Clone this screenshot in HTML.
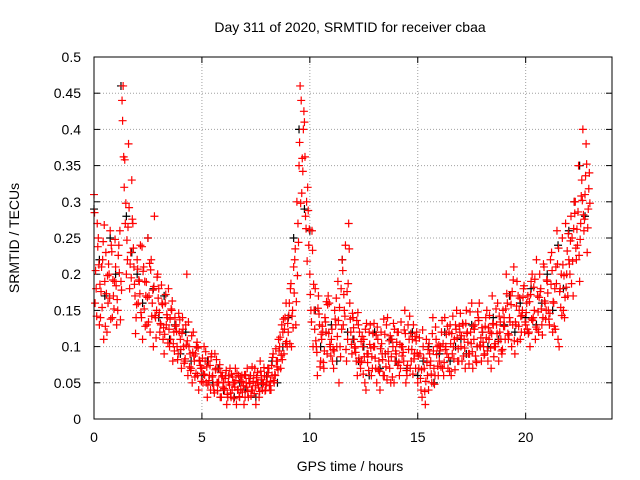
<!DOCTYPE html>
<html><head><meta charset="utf-8"><style>
html,body{margin:0;padding:0;background:#fff;}
svg{display:block;font-family:"Liberation Sans",sans-serif;}
</style></head><body>
<svg id="chart" width="640" height="480" viewBox="0 0 640 480">
<rect x="0" y="0" width="640" height="480" fill="#fff"/>
<text x="350" y="32" font-size="14" text-anchor="middle">Day 311 of 2020, SRMTID for receiver cbaa</text>
<text x="19" y="238" font-size="14" text-anchor="middle" transform="rotate(-90 19 238)">SRMTID / TECUs</text>
<text x="350" y="471" font-size="14" text-anchor="middle">GPS time / hours</text>
<g id="grid"></g><g id="ticks"></g><g id="black"></g><g id="red"></g>
<rect x="94" y="57" width="518" height="362" fill="none" stroke="#000" stroke-width="1"/>
</svg>
<script>
const xTicks=[0,5,10,15,20];
const yTicks=[0,0.05,0.1,0.15,0.2,0.25,0.3,0.35,0.4,0.45,0.5];
const yTickLabels=["0","0.05","0.1","0.15","0.2","0.25","0.3","0.35","0.4","0.45","0.5"];
const redAStart=0, redAStep=0.1;
const redA=[.31,.18,.25,.14,.22,.19,.12,.2,.24,.17,.21,.15,.26,.44,.32,.2,.38,.23,.27,.17,.22,.19,.14,.21,.17,.25,.12,.16,.28,.15,.18,.13,.11,.16,.14,.1,.15,.12,.13,.09,.11,.14,.08,.2,.1,.07,.12,.09,.06,.08,.07,.1,.05,.08,.04,.06,.09,.05,.07,.03,.05,.06,.03,.07,.04,.05,.02,.06,.04,.05,.03,.07,.05,.04,.06,.02,.05,.08,.04,.06,.05,.07,.04,.09,.06,.08,.1,.13,.09,.16,.12,.18,.15,.22,.3,.35,.44,.4,.28,.32,.2,.26,.15,.1,.17,.08,.12,.14,.09,.16,.11,.07,.13,.19,.1,.22,.15,.08,.27,.12,.14,.1,.06,.12,.08,.11,.04,.09,.13,.07,.1,.05,.08,.12,.06,.09,.14,.07,.11,.05,.09,.12,.07,.1,.15,.06,.11,.08,.13,.07,.05,.09,.03,.07,.11,.04,.08,.14,.06,.1,.08,.12,.06,.1,.07,.13,.09,.11,.15,.08,.1,.13,.07,.12,.09,.16,.11,.08,.14,.1,.12,.09,.15,.11,.07,.13,.1,.16,.12,.09,.14,.2,.11,.17,.13,.09,.19,.15,.12,.18,.13,.17,.1,.2,.15,.22,.12,.18,.14,.16,.19,.13,.23,.16,.21,.11,.18,.25,.14,.2,.22,.28,.17,.3,.24,.19,.33,.26,.38,.29];
const redBStart=0.05, redBStep=0.1;
const redB=[.16,.27,.13,.21,.11,.23,.16,.26,.14,.19,.13,.24,.19,.46,.27,.22,.18,.33,.21,.14,.16,.24,.11,.19,.13,.17,.22,.1,.14,.2,.12,.16,.09,.13,.18,.11,.08,.14,.1,.12,.07,.1,.13,.06,.09,.05,.08,.1,.04,.07,.05,.08,.03,.06,.09,.04,.07,.05,.03,.06,.04,.02,.06,.03,.05,.07,.04,.03,.06,.02,.05,.03,.06,.04,.07,.05,.03,.06,.05,.04,.07,.04,.06,.05,.08,.11,.07,.12,.14,.1,.16,.1,.21,.13,.27,.46,.36,.41,.3,.24,.15,.1,.18,.06,.13,.11,.07,.12,.17,.1,.08,.15,.1,.05,.18,.13,.24,.11,.16,.09,.11,.08,.13,.07,.1,.05,.09,.12,.06,.1,.07,.11,.04,.09,.06,.13,.08,.05,.1,.08,.12,.06,.1,.08,.05,.13,.07,.11,.09,.12,.07,.04,.1,.02,.06,.09,.05,.07,.11,.06,.1,.07,.14,.09,.12,.06,.1,.13,.08,.12,.08,.11,.15,.09,.12,.07,.13,.1,.16,.08,.1,.14,.08,.12,.17,.1,.13,.08,.11,.15,.11,.16,.14,.1,.21,.13,.17,.11,.15,.12,.16,.12,.19,.14,.11,.17,.2,.13,.21,.15,.15,.22,.12,.18,.26,.1,.2,.15,.27,.17,.2,.25,.3,.22,.35,.27,.4,.31,.23,.34];
const redCStart=0.025, redCStep=0.1;
const redC=[.285,.142,.213,.176,.245,.128,.198,.167,.231,.152,.184,.226,.137,.412,.358,.247,.292,.195,.236,.118,.207,.173,.238,.152,.189,.134,.206,.178,.143,.196,.147,.185,.126,.172,.105,.138,.163,.094,.121,.146,.096,.124,.083,.108,.072,.115,.087,.063,.098,.074,.084,.061,.072,.053,.086,.047,.068,.039,.075,.058,.042,.067,.051,.036,.058,.044,.063,.031,.052,.046,.061,.038,.049,.072,.035,.057,.043,.066,.048,.039,.058,.046,.074,.053,.097,.068,.113,.082,.124,.107,.143,.187,.126,.235,.198,.382,.312,.425,.263,.288,.172,.233,.124,.092,.145,.117,.078,.134,.158,.103,.124,.094,.167,.136,.086,.205,.142,.176,.235,.103,.126,.092,.147,.078,.114,.086,.132,.067,.098,.118,.084,.127,.066,.104,.138,.072,.093,.115,.058,.124,.106,.078,.134,.092,.118,.074,.142,.096,.083,.108,.087,.056,.123,.038,.078,.104,.062,.094,.127,.073,.094,.136,.078,.117,.085,.104,.142,.068,.112,.128,.115,.087,.132,.106,.148,.093,.124,.078,.136,.112,.106,.128,.094,.143,.118,.086,.152,.107,.134,.096,.128,.173,.116,.158,.192,.134,.107,.167,.143,.184,.147,.118,.172,.136,.193,.124,.168,.152,.214,.138,.174,.146,.205,.128,.187,.236,.154,.213,.168,.232,.214,.187,.263,.236,.286,.248,.302,.276,.352,.318];
const redDStart=0.075, redDStep=0.1;
const redD=[.205,.238,.186,.154,.268,.173,.214,.138,.192,.248,.165,.202,.178,.362,.298,.265,.214,.276,.186,.158,.192,.147,.204,.128,.168,.215,.142,.183,.112,.167,.132,.158,.117,.144,.124,.152,.104,.128,.082,.137,.118,.077,.102,.134,.067,.092,.058,.106,.081,.052,.062,.093,.047,.074,.058,.036,.082,.051,.064,.044,.056,.034,.047,.062,.028,.053,.041,.058,.037,.061,.044,.056,.032,.052,.046,.064,.038,.054,.071,.047,.064,.052,.085,.061,.072,.094,.088,.138,.104,.132,.104,.142,.174,.162,.244,.298,.342,.362,.218,.262,.134,.186,.108,.153,.072,.128,.094,.162,.118,.087,.096,.138,.114,.154,.124,.172,.096,.187,.138,.146,.098,.136,.084,.107,.062,.124,.078,.103,.086,.132,.116,.068,.097,.082,.117,.054,.108,.086,.132,.094,.074,.103,.087,.123,.067,.096,.118,.062,.114,.091,.112,.068,.084,.052,.096,.074,.118,.048,.089,.102,.072,.104,.096,.128,.066,.118,.083,.124,.097,.146,.132,.098,.118,.076,.104,.128,.087,.148,.102,.126,.088,.112,.126,.098,.132,.104,.118,.142,.094,.128,.152,.118,.134,.176,.108,.156,.128,.142,.168,.134,.124,.162,.138,.182,.127,.148,.176,.116,.163,.192,.138,.186,.162,.124,.214,.176,.143,.198,.182,.256,.246,.218,.284,.262,.226,.308,.282,.336,.264,.298];
const blackStart=0, blackStep=0.25;
const blackVals=[.29,.22,.17,.25,.2,.46,.28,.23,.2,.16,.25,.18,.14,.17,.11,.13,.09,.12,.08,.1,.06,.08,.05,.07,.04,.06,.03,.05,.04,.06,.03,.05,.06,.08,.05,.1,.14,.25,.4,.29,.26,.15,.1,.12,.13,.08,.22,.12,.11,.08,.1,.06,.12,.07,.09,.11,.08,.1,.07,.12,.06,.08,.1,.05,.09,.12,.08,.1,.11,.09,.13,.1,.12,.1,.14,.11,.13,.17,.12,.16,.14,.18,.13,.16,.2,.15,.24,.18,.26,.3,.35,.28];

const X0=94,X1=612,Y0=419,Y1=57;
const xs=v=>X0+v*(X1-X0)/24;
const ys=v=>Y0-v*(Y0-Y1)/0.5;
const NS="http://www.w3.org/2000/svg";
function mk(tag,attrs,parent){const e=document.createElementNS(NS,tag);for(const k in attrs)e.setAttribute(k,attrs[k]);parent.appendChild(e);return e;}
const grid=document.getElementById('grid'),ticks=document.getElementById('ticks');
xTicks.forEach(t=>{
  const x=xs(t);
  if(t>0){const g=mk('line',{x1:x,y1:Y0,x2:x,y2:Y1,stroke:'#a0a0a0','stroke-dasharray':'1,2'},grid);
  
  }
  mk('line',{x1:x,y1:Y0,x2:x,y2:Y0-6,stroke:'#000'},ticks);
  mk('line',{x1:x,y1:Y1,x2:x,y2:Y1+6,stroke:'#000'},ticks);
  const l=mk('text',{x:x,y:Y0+23,'font-size':14,'text-anchor':'middle'},ticks);l.textContent=t;
  
  
});
yTicks.forEach((t,i)=>{
  const y=ys(t);
  if(i>0&&i<yTicks.length-1){const g=mk('line',{x1:X0,y1:y,x2:X1,y2:y,stroke:'#a0a0a0','stroke-dasharray':'1,2'},grid);
  
  }
  mk('line',{x1:X0,y1:y,x2:X0+6,y2:y,stroke:'#000'},ticks);
  mk('line',{x1:X1,y1:y,x2:X1-6,y2:y,stroke:'#000'},ticks);
  const l=mk('text',{x:X0-13,y:y+5,'font-size':14,'text-anchor':'end'},ticks);l.textContent=yTickLabels[i];
  
  
});
function plus(gid,start,step,vals,color,name){
  const g=document.getElementById(gid);
  vals.forEach((v,i)=>{
    const x=xs(start+i*step),y=ys(v);
    const p=mk('path',{d:`M${x-4},${y}H${x+4}M${x},${y-4}V${y+4}`,stroke:color,'stroke-width':1.2,fill:'none'},g);
    
    
  });
}
plus('black',blackStart,blackStep,blackVals,'#000','black-point');
plus('red',redAStart,redAStep,redA,'#f00','red-point');
plus('red',redBStart,redBStep,redB,'#f00','red-point');
plus('red',redCStart,redCStep,redC,'#f00','red-point');
plus('red',redDStart,redDStep,redD,'#f00','red-point');
</script>
</body></html>
